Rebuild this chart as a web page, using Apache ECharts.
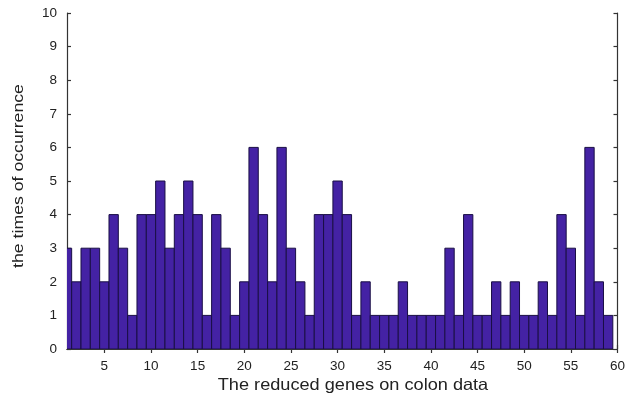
<!DOCTYPE html>
<html>
<head>
<meta charset="utf-8">
<script src="https://cdn.jsdelivr.net/npm/echarts@6/dist/echarts.min.js"></script>
<style>html,body{margin:0;padding:0;background:#fff;}#c{width:628px;height:402px;}</style>
</head>
<body>
<div id="c"></div>
<script>
var genes = [];
for (var i = 1; i <= 59; i++) genes.push(i);
var occurrences = [3,2,3,3,2,4,3,1,4,4,5,3,4,5,4,1,4,3,1,2,6,4,2,6,3,2,1,4,4,5,4,1,2,1,1,1,2,1,1,1,1,3,1,4,1,1,2,1,2,1,1,2,1,4,3,1,6,2,1];
var xTicks = [5,10,15,20,25,30,35,40,45,50,55,60];
var yTicks = [0,1,2,3,4,5,6,7,8,9,10];
var xTitle = 'The reduced genes on colon data';
var yTitle = 'the times of occurrence';

var data = genes.map(function (g, i) { return [g, occurrences[i]]; });
var chart = echarts.init(document.getElementById('c'), null, {renderer: 'canvas'});
var lineStyle = {color: '#333', width: 1.2};
var fontFam = 'Liberation Sans, Arial, sans-serif';
var tickLabel = {color: '#222', fontSize: 13.5, fontFamily: fontFam};
chart.setOption({
  animation: false,
  grid: {left: 67, right: 5, top: 13, bottom: 53},
  graphic: [{
    type: 'text', x: 353, y: 385, scaleX: 1.1,
    style: {text: xTitle, fill: '#222', font: '16.5px ' + fontFam, textAlign: 'center', textVerticalAlign: 'middle'}
  }, {
    type: 'text', x: 19, y: 176, rotation: Math.PI / 2, scaleX: 1.22,
    style: {text: yTitle, fill: '#222', font: '14.5px ' + fontFam, textAlign: 'center', textVerticalAlign: 'middle'}
  }],
  xAxis: [{
    type: 'value', min: 1, max: 60, position: 'bottom',
    axisLine: {show: true, lineStyle: lineStyle},
    axisTick: {show: true, inside: true, length: 4, customValues: xTicks, lineStyle: lineStyle},
    axisLabel: Object.assign({customValues: xTicks, margin: 10}, tickLabel),
    splitLine: {show: false}
  }, {
    type: 'value', min: 1, max: 60, position: 'top',
    axisLine: {show: true, lineStyle: lineStyle},
    axisTick: {show: true, inside: true, length: 4, customValues: xTicks, lineStyle: lineStyle},
    axisLabel: {show: false},
    splitLine: {show: false}
  }],
  yAxis: [{
    type: 'value', min: 0, max: 10, interval: 1, position: 'left',
    axisLine: {show: true, lineStyle: lineStyle},
    axisTick: {show: true, inside: true, length: 4, lineStyle: lineStyle},
    axisLabel: Object.assign({margin: 10, formatter: function (v) { return yTicks.indexOf(v) >= 0 ? String(v) : ''; }}, tickLabel),
    splitLine: {show: false}
  }, {
    type: 'value', min: 0, max: 10, interval: 1, position: 'right',
    axisLine: {show: true, lineStyle: lineStyle},
    axisTick: {show: true, inside: true, length: 4, lineStyle: lineStyle},
    axisLabel: {show: false},
    splitLine: {show: false}
  }],
  series: [{
    type: 'custom',
    xAxisIndex: 0, yAxisIndex: 0,
    clip: true,
    data: data,
    renderItem: function (params, api) {
      var x = api.value(0), y = api.value(1);
      var p0 = api.coord([x - 0.5, y]);
      var p1 = api.coord([x + 0.5, 0]);
      return {
        type: 'rect',
        shape: {x: p0[0], y: p0[1], width: p1[0] - p0[0], height: p1[1] - p0[1]},
        style: {fill: '#4422a4', stroke: '#1a0f45', lineWidth: 1}
      };
    }
  }]
});
</script>
</body>
</html>
